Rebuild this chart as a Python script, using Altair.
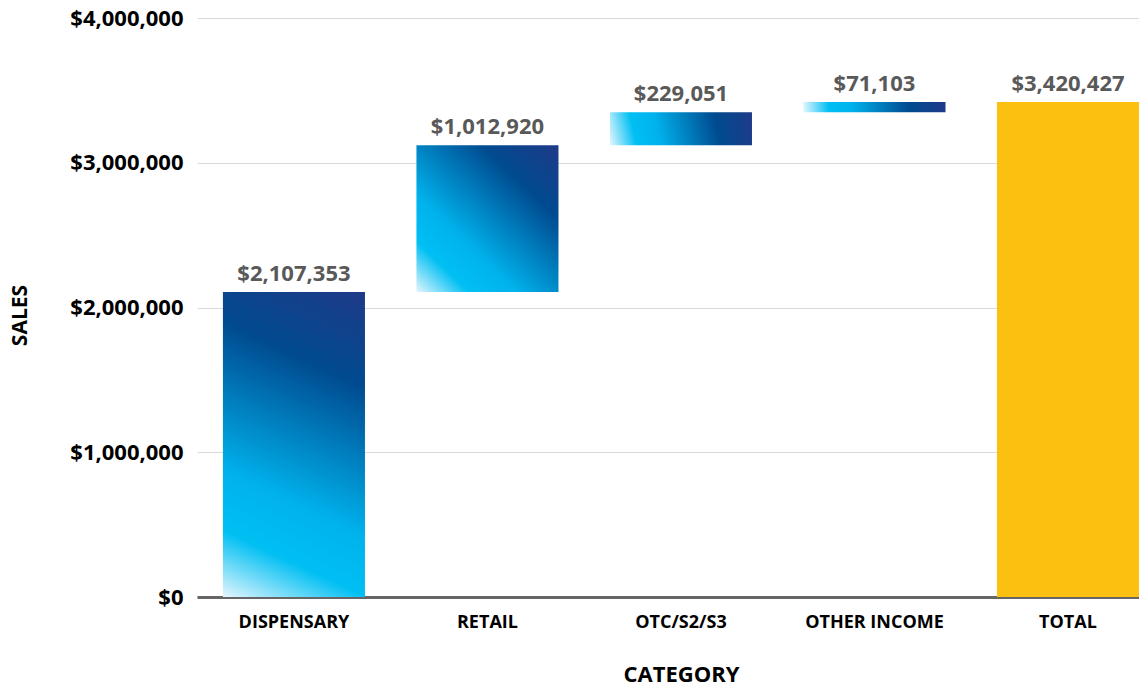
import altair as alt
import pandas as pd

categories = ["DISPENSARY", "RETAIL", "OTC/S2/S3", "OTHER INCOME", "TOTAL"]
amounts = [2107353, 1012920, 229051, 71103, 3420427]
is_total = [False, False, False, False, True]
y_ticks = [0, 1000000, 2000000, 3000000, 4000000]

rows = []
running = 0
for c, a, t in zip(categories, amounts, is_total):
    if t:
        start, end = 0, a
    else:
        start, end = running, running + a
        running = end
    rows.append({"category": c, "amount": a, "start": start, "end": end, "total": t})
df = pd.DataFrame(rows)

FONT = "Open Sans"
W, H = 942, 579
Y_MAX = 4000000
P_INNER, P_OUTER = 0.266, 0.067

step = W / (len(categories) - P_INNER + 2 * P_OUTER)
bar_w = step * (1 - P_INNER)

stops = [
    alt.GradientStop(color="#e4f6fd", offset=0.0),
    alt.GradientStop(color="#00bff3", offset=0.18),
    alt.GradientStop(color="#00b2ec", offset=0.34),
    alt.GradientStop(color="#004b90", offset=0.74),
    alt.GradientStop(color="#1f3a88", offset=1.0),
]


def diag_gradient(w, h):
    # gradient running from bottom-left to top-right corner, isolines perpendicular on screen
    w2, h2 = w * w, h * h
    k = (w2 + h2) / (w2 * w2 + h2 * h2)
    return alt.Gradient(
        gradient="linear", x1=0, y1=1, x2=k * w2, y2=1 - k * h2, stops=stops
    )


xscale = alt.Scale(domain=categories, paddingInner=P_INNER, paddingOuter=P_OUTER, align=1)
yscale = alt.Scale(domain=[0, Y_MAX], nice=False)

x_axis = alt.Axis(
    title="CATEGORY",
    labelAngle=0,
    labelFont=FONT,
    labelFontWeight="bold",
    labelFontSize=18,
    labelColor="#000000",
    labelPadding=16,
    ticks=False,
    domain=True,
    domainColor="#666666",
    domainWidth=3,
    titleFont=FONT,
    titleFontWeight="bold",
    titleFontSize=22,
    titleColor="#000000",
    titleX=484,
    titleY=77,
    titleBaseline="middle",
)

y_axis = alt.Axis(
    title="SALES",
    values=y_ticks,
    format="$,.0f",
    labelFont=FONT,
    labelFontWeight="bold",
    labelFontSize=22,
    labelColor="#000000",
    labelPadding=14,
    ticks=False,
    domain=False,
    grid=True,
    gridColor="#d9d9d9",
    gridWidth=1,
    titleFont=FONT,
    titleFontWeight="bold",
    titleFontSize=21,
    titleColor="#000000",
    titleX=-177,
    titleY=297,
    titleAngle=-90,
    titleAlign="center",
    titleBaseline="middle",
)

X = alt.X("category:N", sort=categories, scale=xscale, axis=x_axis)

base = alt.Chart(df)

layers = []
for c, a, t in zip(categories, amounts, is_total):
    if t:
        continue
    h_px = a * H / Y_MAX
    layer = base.transform_filter(alt.datum.category == c).mark_bar(
        color=diag_gradient(bar_w, h_px), opacity=1
    ).encode(
        x=X,
        y=alt.Y("start:Q", scale=yscale, axis=y_axis),
        y2="end:Q",
    )
    layers.append(layer)

total_bar = base.transform_filter("datum.total").mark_bar(color="#fcc010", opacity=1).encode(
    x=X,
    y=alt.Y("start:Q", scale=yscale, axis=y_axis),
    y2="end:Q",
)

labels = base.mark_text(
    font=FONT, fontWeight="bold", fontSize=22, color="#595959", baseline="bottom", dy=-6
).encode(
    x=X,
    y=alt.Y("end:Q", scale=yscale, axis=y_axis),
    text=alt.Text("amount:Q", format="$,.0f"),
)

chart = (
    alt.layer(*layers, total_bar, labels)
    .properties(
        width=W,
        height=H,
        autosize=alt.AutoSizeParams(type="none"),
        padding={"left": 197, "top": 18, "right": 0, "bottom": 91},
        background="#ffffff",
    )
    .configure_view(stroke=None)
)

chart.save("out.html", embed_options={"renderer": "svg", "actions": False})
